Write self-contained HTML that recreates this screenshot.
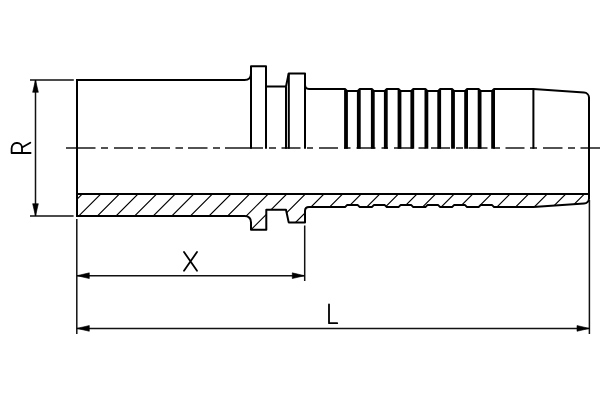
<!DOCTYPE html>
<html><head><meta charset="utf-8"><style>
html,body{margin:0;padding:0;background:#fff;width:600px;height:400px;overflow:hidden}
svg{display:block}
</style></head><body>
<svg width="600" height="400" viewBox="0 0 600 400">
<rect width="600" height="400" fill="#fff"/>
<defs><clipPath id="c"><path d="M77 194 L589 194 L589 198.6 C589 201.4 586.8 203.4 584 203.6 L533.4 207.1 L494.1 207.1 L492.1 205.1 L480.6 205.1 L478.6 207.1 L467.1 207.1 L465.1 205.1 L454 205.1 L452 207.1 L440.2 207.1 L438.2 205.1 L427.4 205.1 L425.4 207.1 L413.3 207.1 L411.3 205.1 L400.5 205.1 L398.5 207.1 L386.8 207.1 L384.8 205.1 L373.8 205.1 L371.8 207.1 L359.8 207.1 L357.8 205.1 L347 205.1 L345 207.1 L309 207.1 Q305 207.1 305 211.1 L305 222.4 L288.7 222.4 L286 209.8 L266.3 209.8 L266.3 229.8 L251 229.8 L251 222.5 Q251 216 244.5 216 L77 216 Z"/></clipPath></defs>
<path d="M22.6 235 L67.6 190 M41.2 235 L86.2 190 M59.8 235 L104.8 190 M78.4 235 L123.4 190 M97 235 L142 190 M115.6 235 L160.6 190 M134.2 235 L179.2 190 M152.8 235 L197.8 190 M171.4 235 L216.4 190 M190 235 L235 190 M208.6 235 L253.6 190 M227.2 235 L272.2 190 M245.8 235 L290.8 190 M264.4 235 L309.4 190 M283 235 L328 190 M301.6 235 L346.6 190 M320.2 235 L365.2 190 M338.8 235 L383.8 190 M357.4 235 L402.4 190 M376 235 L421 190 M394.6 235 L439.6 190 M413.2 235 L458.2 190 M431.8 235 L476.8 190 M450.4 235 L495.4 190 M469 235 L514 190 M487.6 235 L532.6 190 M506.2 235 L551.2 190 M524.8 235 L569.8 190 M543.4 235 L588.4 190 M562 235 L607 190 M580.6 235 L625.6 190 " stroke="#000" stroke-width="1.15" fill="none" clip-path="url(#c)"/>
<path d="M66 148 H95.5 M101 148 H108 M114 148 H133 M138 148 H145.5 M151 148 H170 M175.5 148 H183 M188 148 H207.5 M213 148 H220 M225 148 H263 M269 148 H276 M281.5 148 H300.5 M307 148 H313 M319 148 H338 M344 148 H350.5 M356.5 148 H375.5 M381.5 148 H388 M394 148 H413 M418.5 148 H425.5 M431 148 H450 M456 148 H463 M468.5 148 H487.5 M493 148 H500 M505.5 148 H524.5 M530 148 H537 M543 148 H562.5 M568 148 H575 M580.5 148 H600 " stroke="#1a1a1a" stroke-width="1.6" fill="none"/>
<path d="M30 80 H73.8 M30 216.1 H73.6 M35.5 80 V216 M76.8 219 V334 M304.7 225.5 V281 M589.4 200 V334 M77 275.7 H304.6 M77 328.4 H589.3 " stroke="#111" stroke-width="1.5" fill="none"/>
<path d="M35.5 80 L32.65 92.3 L38.35 92.3 Z M35.5 216 L38.35 203.7 L32.65 203.7 Z M77 275.7 L89.3 278.55 L89.3 272.85 Z M304.6 275.7 L292.3 272.85 L292.3 278.55 Z M77 328.4 L89.3 331.25 L89.3 325.55 Z M589.3 328.4 L577 325.55 L577 331.25 Z " fill="#000" stroke="#000" stroke-width="0.6" stroke-linejoin="round"/>
<path d="M251 66.3 V148.7 M266 66.3 V148.7 M286 86.4 V148.7 M288.8 73.5 V148.7 M305 73.5 V148.7 M533.4 88.9 V148.7 M345.1 88.9 V148.7 M346.9 90.9 V148.7 M357.9 90.9 V148.7 M359.7 88.9 V148.7 M371.9 88.9 V148.7 M373.7 90.9 V148.7 M384.9 90.9 V148.7 M386.7 88.9 V148.7 M398.6 88.9 V148.7 M400.4 90.9 V148.7 M411.4 90.9 V148.7 M413.2 88.9 V148.7 M425.5 88.9 V148.7 M427.3 90.9 V148.7 M438.3 90.9 V148.7 M440.1 88.9 V148.7 M452.1 88.9 V148.7 M453.9 90.9 V148.7 M465.2 90.9 V148.7 M467 88.9 V148.7 M478.7 88.9 V148.7 M480.5 90.9 V148.7 M492.2 90.9 V148.7 M494 88.9 V148.7 " stroke="#000" stroke-width="2" fill="none"/>
<path d="M77 79 V217 M77 194 H589.5" stroke="#000" stroke-width="2" fill="none"/>
<path d="M77 80 L244.5 80 Q251 80 251 73.5 L251 66.3 L266 66.3 L266 86.4 L286 86.4 L288.7 73.5 L305 73.5 L305 84.7 Q305 88.9 309 88.9 L345 88.9 L347 90.9 L357.8 90.9 L359.8 88.9 L371.8 88.9 L373.8 90.9 L384.8 90.9 L386.8 88.9 L398.5 88.9 L400.5 90.9 L411.3 90.9 L413.3 88.9 L425.4 88.9 L427.4 90.9 L438.2 90.9 L440.2 88.9 L452 88.9 L454 90.9 L465.1 90.9 L467.1 88.9 L478.6 88.9 L480.6 90.9 L492.1 90.9 L494.1 88.9 L533.4 88.9 L584 92.6 C586.8 92.8 589 94.8 589 97.6 L589 198.6 C589 201.4 586.8 203.4 584 203.6 L533.4 207.1 L494.1 207.1 L492.1 205.1 L480.6 205.1 L478.6 207.1 L467.1 207.1 L465.1 205.1 L454 205.1 L452 207.1 L440.2 207.1 L438.2 205.1 L427.4 205.1 L425.4 207.1 L413.3 207.1 L411.3 205.1 L400.5 205.1 L398.5 207.1 L386.8 207.1 L384.8 205.1 L373.8 205.1 L371.8 207.1 L359.8 207.1 L357.8 205.1 L347 205.1 L345 207.1 L309 207.1 Q305 207.1 305 211.1 L305 222.4 L288.7 222.4 L286 209.8 L266.3 209.8 L266.3 229.8 L251 229.8 L251 222.5 Q251 216 244.5 216 L77 216" stroke="#000" stroke-width="2" fill="none" stroke-linejoin="round"/>
<g stroke="#000" stroke-width="1.8" fill="none" stroke-linecap="round" stroke-linejoin="round">
<path d="M184 252 L197 270.8 M197 252 L184 270.8"/>
<path d="M329 304.4 V323.2 H337.2"/>
<path d="M30.6 153 H11.6 V148.5 A4.8 5.5 0 0 1 16.4 143 H17.4 A4.6 5 0 0 1 22 148 V153 M22 147.5 L30.3 142.8"/>
</g>
</svg>
</body></html>
